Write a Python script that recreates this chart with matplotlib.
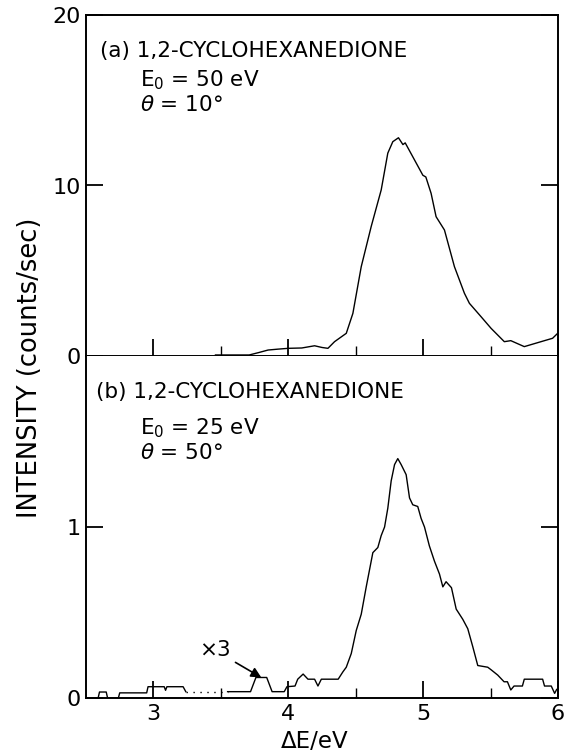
import matplotlib
matplotlib.use("Agg")
import matplotlib.pyplot as plt
import numpy as np

# ---- data ----
top_E = [3.46, 3.71, 3.78, 3.85, 3.92, 4.00, 4.10, 4.195, 4.25, 4.294, 4.343, 4.43, 4.479,
         4.541, 4.615, 4.689, 4.738, 4.775, 4.817, 4.85, 4.867, 4.936, 4.998, 5.02,
         5.059, 5.096, 5.158, 5.232, 5.306, 5.343, 5.43, 5.504, 5.602, 5.65, 5.75,
         5.874, 5.96, 6.0]
top_I = [0.06, 0.06, 0.2, 0.35, 0.4, 0.45, 0.47, 0.6, 0.5, 0.45, 0.84, 1.33, 2.5,
         5.24, 7.6, 9.74, 11.9, 12.57, 12.8, 12.4, 12.5, 11.5, 10.6, 10.5,
         9.54, 8.17, 7.39, 5.24, 3.68, 3.09, 2.3, 1.62, 0.84, 0.9, 0.55,
         0.84, 1.04, 1.35]

# bottom panel: low-energy part (x3), dotted gap, and main trace
b1_E = [2.59, 2.60, 2.65, 2.66, 2.74, 2.75, 2.95, 2.96, 3.08, 3.09, 3.10, 3.12, 3.22, 3.24]
b1_I = [0.0, 0.035, 0.035, 0.0, 0.0, 0.03, 0.03, 0.066, 0.066, 0.045, 0.066, 0.066, 0.066, 0.037]
bd_E = [3.24, 3.55]
bd_I = [0.037, 0.037]
b2_E = [3.55, 3.72, 3.76, 3.84, 3.88, 3.97, 3.99, 4.05, 4.07, 4.11, 4.146, 4.195, 4.22,
        4.245, 4.37, 4.405, 4.43, 4.467, 4.504, 4.541, 4.578, 4.627, 4.664, 4.689,
        4.714, 4.738, 4.763, 4.788, 4.812, 4.837, 4.874, 4.899, 4.923, 4.96, 4.985,
        5.01, 5.046, 5.084, 5.121, 5.146, 5.17, 5.21, 5.245, 5.294, 5.331, 5.368,
        5.405, 5.479, 5.504, 5.553, 5.60, 5.625, 5.65, 5.674, 5.736, 5.75, 5.886,
        5.90, 5.95, 5.975, 5.99]
b2_I = [0.037, 0.037, 0.12, 0.12, 0.037, 0.037, 0.066, 0.07, 0.11, 0.14, 0.11, 0.11, 0.07,
        0.11, 0.11, 0.153, 0.18, 0.26, 0.395, 0.49, 0.65, 0.85, 0.88, 0.95,
        1.0, 1.11, 1.27, 1.365, 1.40, 1.365, 1.306, 1.17, 1.13, 1.12, 1.05,
        1.0, 0.89, 0.80, 0.725, 0.65, 0.68, 0.645, 0.52, 0.46, 0.405, 0.30,
        0.19, 0.18, 0.165, 0.134, 0.095, 0.095, 0.047, 0.07, 0.07, 0.11, 0.11,
        0.07, 0.07, 0.027, 0.05]

x_ticks = [3, 4, 5, 6]
top_yticks = [0, 10, 20]
bot_yticks = [0, 1]

fig = plt.figure(figsize=(5.64, 7.52), dpi=100)
L, R = 86 / 564, 558 / 564
ytop = 1 - 15 / 752
ymid = 1 - 356 / 752
ybot = 1 - 698 / 752
ax1 = fig.add_axes([L, ymid, R - L, ytop - ymid])
ax2 = fig.add_axes([L, ybot, R - L, ymid - ybot])

for ax in (ax1, ax2):
    ax.set_xlim(2.5, 6.0)
    ax.set_xticks(x_ticks)
    ax.set_xticks([3.5, 4.5, 5.5], minor=True)
    ax.tick_params(axis='x', which='major', direction='in', length=12, width=1.3,
                   top=False, labelsize=16, pad=4)
    ax.tick_params(axis='x', which='minor', direction='in', length=7, width=1.0, top=False)
    ax.tick_params(axis='y', direction='in', length=12, width=1.3, left=True, right=True,
                   labelsize=16, pad=4)
    for s in ax.spines.values():
        s.set_linewidth(1.4)

ax1.plot(top_E, top_I, color='black', lw=1.0)
ax1.set_ylim(0, 20)
ax1.set_yticks(top_yticks)
ax1.tick_params(axis='x', labelbottom=False)

ax2.plot(b1_E, b1_I, color='black', lw=1.0)
ax2.plot(bd_E, bd_I, color='black', lw=1.0, ls=(0, (1, 4)))
ax2.plot(b2_E, b2_I, color='black', lw=1.0)
ax2.set_ylim(0, 2)
ax2.set_yticks(bot_yticks)
ax2.spines['top'].set_visible(False)

fs = 15.5
ax1.text(0.03, 0.895, "(a) 1,2-CYCLOHEXANEDIONE", transform=ax1.transAxes,
         fontsize=fs, va='center', ha='left')
ax1.text(0.115, 0.81, r"E$_\mathregular{0}$ = 50 eV", transform=ax1.transAxes,
         fontsize=fs, va='center', ha='left')
ax1.text(0.115, 0.735, r"$\theta$ = 10°", transform=ax1.transAxes,
         fontsize=fs, va='center', ha='left')

ax2.text(0.022, 0.895, "(b) 1,2-CYCLOHEXANEDIONE", transform=ax2.transAxes,
         fontsize=fs, va='center', ha='left')
ax2.text(0.115, 0.79, r"E$_\mathregular{0}$ = 25 eV", transform=ax2.transAxes,
         fontsize=fs, va='center', ha='left')
ax2.text(0.115, 0.715, r"$\theta$ = 50°", transform=ax2.transAxes,
         fontsize=fs, va='center', ha='left')

ax2.annotate("×3", xy=(3.8, 0.12), xytext=(3.57, 0.28), fontsize=fs,
             ha='right', va='center',
             arrowprops=dict(arrowstyle='-|>', color='black', lw=1.2,
                             mutation_scale=15, shrinkA=2, shrinkB=0))

fig.text(0.5585, 1 - 741 / 752, "ΔE/eV", fontsize=16.5, ha='center', va='center')
fig.text(0.053, 1 - 368 / 752, "INTENSITY (counts/sec)", rotation=90,
         fontsize=18.5, ha='center', va='center')

fig.savefig("out.png", dpi=100)
